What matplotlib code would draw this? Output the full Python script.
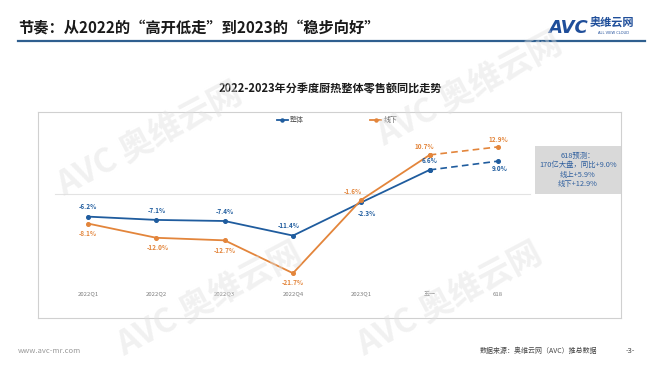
import matplotlib.pyplot as plt
from matplotlib.lines import Line2D
import matplotlib.patches as mpatches

plt.rcParams['font.family'] = ['Noto Sans CJK SC', 'DejaVu Sans']

# data
periods = ["2022Q1", "2022Q2", "2022Q3", "2022Q4", "2023Q1", "五一", "618"]
overall = [-6.2, -7.1, -7.4, -11.4, -2.3, 6.6, 9.0]
offline = [-8.1, -12.0, -12.7, -21.7, -1.6, 10.7, 12.9]
overall_labels = ["-6.2%", "-7.1%", "-7.4%", "-11.4%", "-2.3%", "6.6%", "9.0%"]
offline_labels = ["-8.1%", "-12.0%", "-12.7%", "-21.7%", "-1.6%", "10.7%", "12.9%"]
forecast_lines = ["618预测：", "170亿大盘，同比+9.0%", "线上+5.9%", "线下+12.9%"]

BLUE = "#1f5c9e"
ORANGE = "#e3853b"
W, H = 660, 372

fig = plt.figure(figsize=(6.6, 3.72), dpi=100)

def fx(px):
    return px / W

def fy(py):
    return 1 - py / H

# header
fig.text(fx(18), fy(28), "节奏：从2022的“高开低走”到2023的“稳步向好”",
         fontsize=11, fontweight='bold', color='#1a1a1a', va='center', ha='left')
fig.add_artist(Line2D([fx(18), fx(645)], [fy(41), fy(41)], color='#2f5f8f', lw=1.6))
fig.text(fx(548), fy(28), "AVC", fontsize=13, fontweight='bold', style='italic',
         color='#1f4e9a', va='center', ha='left', family='DejaVu Sans')
fig.text(fx(590), fy(23), "奥维云网", fontsize=8, fontweight='bold',
         color='#1f4e9a', va='center', ha='left')
fig.text(fx(598), fy(33), "ALL VIEW CLOUD", fontsize=2.6, color='#1f4e9a',
         va='center', ha='left', family='DejaVu Sans')

# watermarks
for (wx, wy) in [(150, 140), (470, 90), (210, 300), (450, 300)]:
    fig.text(fx(wx), fy(wy), "AVC 奥维云网", fontsize=24, fontweight='bold',
             color='#e0e0e0', alpha=0.45, rotation=28, ha='center', va='center',
             zorder=5)

# chart title
fig.text(fx(330), fy(89), "2022-2023年分季度厨热整体零售额同比走势",
         fontsize=8, fontweight='bold', color='#1a1a1a', ha='center', va='center')

# footer
fig.text(fx(18), fy(351), "www.avc-mr.com", fontsize=5.5, color='#9a9a9a',
         va='center', ha='left')
fig.text(fx(597), fy(351), "数据来源：奥维云网（AVC）推总数据", fontsize=5,
         color='#444444', va='center', ha='right')
fig.text(fx(630), fy(351), "-3-", fontsize=5.5, color='#444444',
         va='center', ha='center')

# plot area (chart box from x=38..621, y=112..318 px)
ax = fig.add_axes([fx(38), fy(318), fx(621) - fx(38), fy(112) - fy(318)])
step = 68.3
ax.set_xlim(-(88 - 38) / step, 6 + (621 - 498) / step)
ax.set_ylim(-(318 - 194) / 3.65, (194 - 112) / 3.65)
for s in ax.spines.values():
    s.set_color('#d0d0d0')
    s.set_linewidth(0.8)
ax.set_xticks([])
ax.set_yticks([])
ax.axhline(0, xmin=(55 - 38) / 583, xmax=(530 - 38) / 583, color='#e3e3e3', lw=0.8)

x = list(range(len(periods)))
for vals, col in [(overall, BLUE), (offline, ORANGE)]:
    ax.plot(x[:6], vals[:6], color=col, lw=1.3, marker='o', ms=2.6, zorder=3)
    ax.plot(x[5:], vals[5:], color=col, lw=1.2, ls=(0, (4, 2.5)), marker='o',
            ms=2.6, zorder=3)

# label offsets in points (dx, dy)
blue_off = [(0, 7), (0, 7), (0, 7), (-3, 7), (4, -8), (0, 7), (1, -5)]
orange_off = [(0, -7), (1, -7), (0, -7), (0, -7), (-6, 6), (-4, 6), (0, 5)]
for xi, v, lab, off in zip(x, overall, overall_labels, blue_off):
    ax.annotate(lab, (xi, v), xytext=off, textcoords='offset points',
                ha='center', va='center', fontsize=4.6, color=BLUE, fontweight='bold')
for xi, v, lab, off in zip(x, offline, offline_labels, orange_off):
    ax.annotate(lab, (xi, v), xytext=off, textcoords='offset points',
                ha='center', va='center', fontsize=4.6, color=ORANGE, fontweight='bold')

# category labels inside the box
for xi, p in zip(x, periods):
    ax.text(xi, (318 - 294) / 206, p, transform=ax.get_xaxis_transform(),
            ha='center', va='center', fontsize=4.3, color='#7f7f7f')

# legend
handles = [Line2D([], [], color=BLUE, lw=1.3, marker='o', ms=2.2),
           Line2D([], [], color=ORANGE, lw=1.3, marker='o', ms=2.2)]
ax.legend(handles, ["整体", "线下"], ncol=2, loc='center',
          bbox_to_anchor=(0.513, (318 - 120) / 206), frameon=False,
          fontsize=5, handlelength=1.6, handletextpad=0.3, columnspacing=9.5,
          labelcolor='#595959')

# forecast box
ax.add_patch(mpatches.Rectangle(((535 - 38) / 583, (318 - 194) / 206),
                                (621 - 535) / 583, (194 - 146) / 206,
                                transform=ax.transAxes, facecolor='#d9d9d9',
                                edgecolor='none', zorder=2))
ax.text((578 - 38) / 583, (318 - 170) / 206, "\n".join(forecast_lines),
        transform=ax.transAxes, ha='center', va='center', fontsize=5.3,
        color='#2f5f9e', linespacing=1.2, zorder=4)

fig.savefig("out.png", dpi=100)
